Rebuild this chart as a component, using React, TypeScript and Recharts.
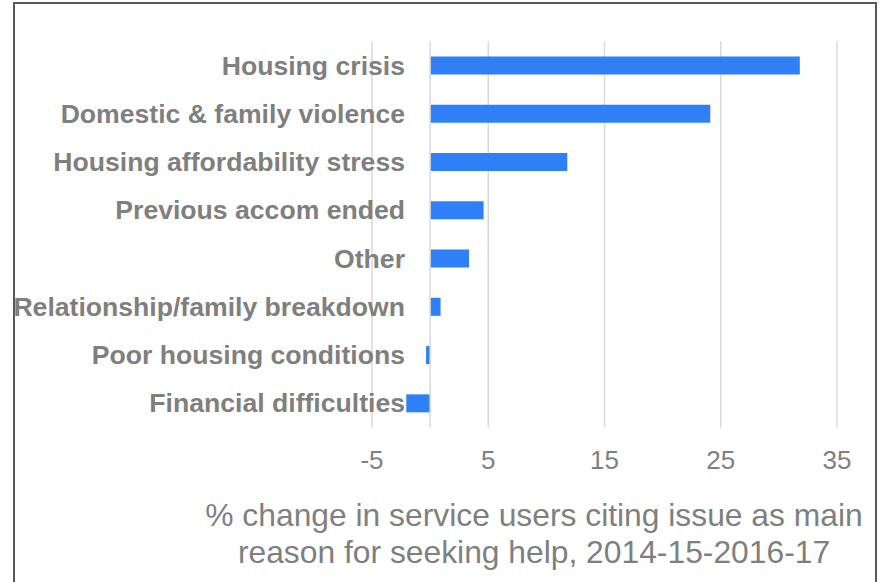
import React from "react";
import {
  BarChart,
  Bar,
  XAxis,
  YAxis,
  CartesianGrid,
  ReferenceLine,
} from "recharts";

const categories = [
  "Housing crisis",
  "Domestic & family violence",
  "Housing affordability stress",
  "Previous accom ended",
  "Other",
  "Relationship/family breakdown",
  "Poor housing conditions",
  "Financial difficulties",
];

const changes = [31.8, 24.1, 11.8, 4.6, 3.35, 0.9, -0.35, -2.05];

const xTicks = [-5, 5, 15, 25, 35];

const titleLines = [
  "% change in service users citing issue as main",
  "reason for seeking help, 2014-15-2016-17",
];

const data = categories.map((name, i) => ({ name, value: changes[i] }));

const FONT = "'Liberation Sans', Arial, sans-serif";
const GREY = "#7f7f7f";

function CategoryTick({ x, y, payload }: any) {
  return (
    <text
      x={x + 33}
      y={y + 9}
      textAnchor="end"
      fill={GREY}
      fontSize={26.6}
      fontWeight="bold"
      fontFamily={FONT}
    >
      {payload.value}
    </text>
  );
}

function ValueTick({ x, y, payload }: any) {
  return (
    <text
      x={x}
      y={y + 41}
      textAnchor="middle"
      fill={GREY}
      fontSize={26}
      fontFamily={FONT}
    >
      {payload.value}
    </text>
  );
}

export default function App() {
  return (
    <div
      style={{
        position: "absolute",
        left: 0,
        top: 0,
        width: 885,
        height: 582,
        background: "#fff",
        overflow: "hidden",
      }}
    >
      <div
        style={{
          position: "absolute",
          left: 13,
          top: 2,
          width: 860,
          height: 590,
          borderTop: "2px solid #595959",
          borderLeft: "2px solid #595959",
          borderRight: "2px solid #595959",
        }}
      />
      <div style={{ position: "absolute", left: 0, top: 0 }}>
        <BarChart
          width={885}
          height={582}
          data={data}
          layout="vertical"
          margin={{ top: 41.5, right: 48, bottom: 94.4, left: 0 }}
        >
          <CartesianGrid
            horizontal={false}
            stroke="#d9d9d9"
            strokeWidth={1.5}
          />
          <XAxis
            type="number"
            domain={[-5, 35]}
            ticks={xTicks}
            axisLine={false}
            tickLine={false}
            tickSize={0}
            tickMargin={0}
            height={60}
            tick={<ValueTick />}
          />
          <YAxis
            type="category"
            dataKey="name"
            width={372}
            axisLine={false}
            tickLine={false}
            tickSize={0}
            tickMargin={0}
            interval={0}
            tick={<CategoryTick />}
          />
          <ReferenceLine x={0} stroke="#d9d9d9" strokeWidth={1.5} />
          <Bar
            dataKey="value"
            fill="#2f80f6"
            barSize={18}
            isAnimationActive={false}
          />
        </BarChart>
      </div>
      {titleLines.map((line, i) => (
        <div
          key={i}
          style={{
            position: "absolute",
            left: 534 - 400,
            width: 800,
            top: 527 + i * 37 - 28.6,
            textAlign: "center",
            fontFamily: FONT,
            fontSize: 31.8,
            lineHeight: "35px",
            color: GREY,
            whiteSpace: "nowrap",
          }}
        >
          {line}
        </div>
      ))}
    </div>
  );
}
